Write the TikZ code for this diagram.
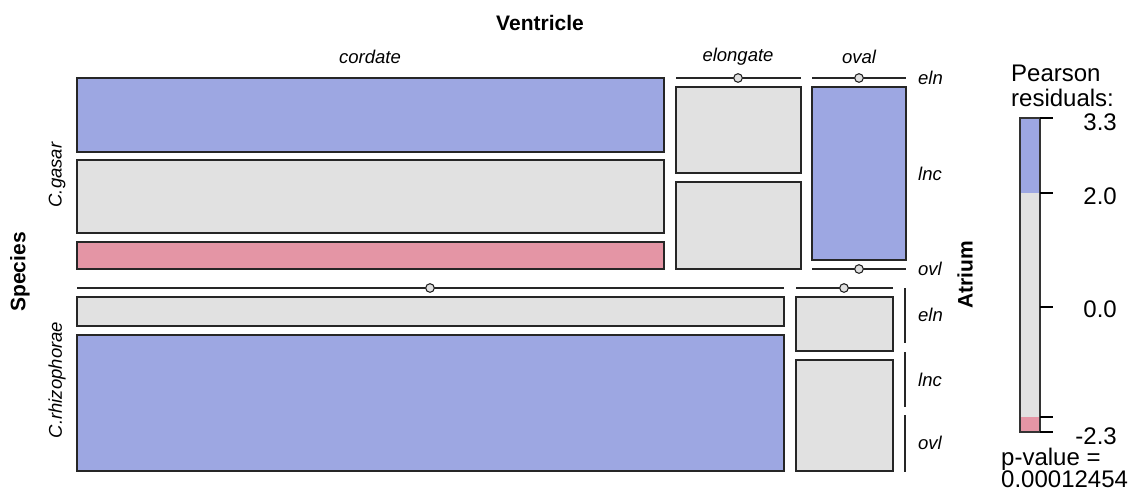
\documentclass[tikz,border=0pt]{standalone}
\usepackage{fontspec}
\setmainfont{Liberation Sans}
\definecolor{rblue}{HTML}{9DA7E2}
\definecolor{rgray}{HTML}{E1E1E1}
\definecolor{rpink}{HTML}{E495A5}
\tikzset{
  cellbox/.style={draw=black!85, line width=1.3pt},
  zeroline/.style={draw=black!85, line width=1.3pt},
  zerodot/.style={draw=black!85, line width=1.1pt, fill=rgray},
  varlab/.style={font=\fontsize{21}{23}\selectfont\bfseries, inner sep=0pt},
  lvllab/.style={font=\fontsize{18.5}{20}\selectfont\itshape, inner sep=0pt},
  leglab/.style={font=\fontsize{24}{26}\selectfont, inner sep=0pt},
  tickline/.style={draw=black, line width=1.2pt}
}
\begin{document}
\begin{tikzpicture}[x=1pt,y=-1pt]
\useasboundingbox[fill=white] (0,0) rectangle (1138,491);
% ---- C.gasar ----
\path[cellbox, fill=rblue] (77,78) rectangle (664,152);
\path[cellbox, fill=rgray] (77,160) rectangle (664,233);
\path[cellbox, fill=rpink] (77,242) rectangle (664,269);
\draw[zeroline] (676,78) -- (801,78);
\path[zerodot] (738,78) circle[radius=4.3pt];
\path[cellbox, fill=rgray] (676,87) rectangle (801,173);
\path[cellbox, fill=rgray] (676,182) rectangle (801,269);
\draw[zeroline] (812,78) -- (906,78);
\path[zerodot] (859,78) circle[radius=4.3pt];
\path[cellbox, fill=rblue] (812,87) rectangle (906,260);
\draw[zeroline] (812,269) -- (906,269);
\path[zerodot] (859,269) circle[radius=4.3pt];
% ---- C.rhizophorae ----
\draw[zeroline] (77,288) -- (784,288);
\path[zerodot] (430,288) circle[radius=4.3pt];
\path[cellbox, fill=rgray] (77,297) rectangle (784,326);
\path[cellbox, fill=rblue] (77,335) rectangle (784,471);
\draw[zeroline] (796,288) -- (893,288);
\path[zerodot] (844,288) circle[radius=4.3pt];
\path[cellbox, fill=rgray] (796,297) rectangle (893,351);
\path[cellbox, fill=rgray] (796,360) rectangle (893,471);
% right brackets
\draw[zeroline] (905,288) -- (905,343);
\draw[zeroline] (905,352) -- (905,407);
\draw[zeroline] (905,415) -- (905,472);
% ---- labels ----
\node[varlab] (ventricle) at (540,23) {Ventricle};
\node[lvllab] (cordate) at (370,57) {cordate};
\node[lvllab] (elongate) at (738,57) {elongate};
\node[lvllab] (oval) at (859,57) {oval};
\node[varlab, rotate=90] (species) at (20,272) {Species};
\node[lvllab, rotate=90] (cgasar) at (57,175) {C.gasar};
\node[lvllab, rotate=90] (crhizo) at (57,380) {C.rhizophorae};
\node[varlab, rotate=90] (atrium) at (965,275) {Atrium};
\node[lvllab, anchor=west] (eln1) at (918,78) {eln};
\node[lvllab, anchor=west] (lnc1) at (918,174) {lnc};
\node[lvllab, anchor=west] (ovl1) at (918,269) {ovl};
\node[lvllab, anchor=west] (eln2) at (918,315) {eln};
\node[lvllab, anchor=west] (lnc2) at (918,380) {lnc};
\node[lvllab, anchor=west] (ovl2) at (918,443) {ovl};
% ---- legend ----
\path[fill=rblue] (1020,118) rectangle (1040,193);
\path[fill=rgray] (1020,193) rectangle (1040,417);
\path[fill=rpink] (1020,417) rectangle (1040,432);
\draw[black!80, line width=1.1pt] (1020,118) rectangle (1040,432);
\foreach \yy in {118,193,307,417,432} \draw[tickline] (1040,\yy) -- (1053,\yy);
\node[leglab, anchor=east] (t1) at (1117,122) {3.3};
\node[leglab, anchor=east] (t2) at (1117,196) {2.0};
\node[leglab, anchor=east] (t3) at (1117,309) {0.0};
\node[leglab, anchor=east] (t4) at (1117,436.5) {-2.3};
\node[leglab, anchor=west] (pear) at (1011,73) {Pearson};
\node[leglab, anchor=west] (resid) at (1011,98) {residuals:};
\node[leglab, anchor=west] (pval) at (1001,459) {p-value =};
\node[leglab, anchor=west] (pnum) at (1001,479) {0.00012454};
\end{tikzpicture}
\end{document}
